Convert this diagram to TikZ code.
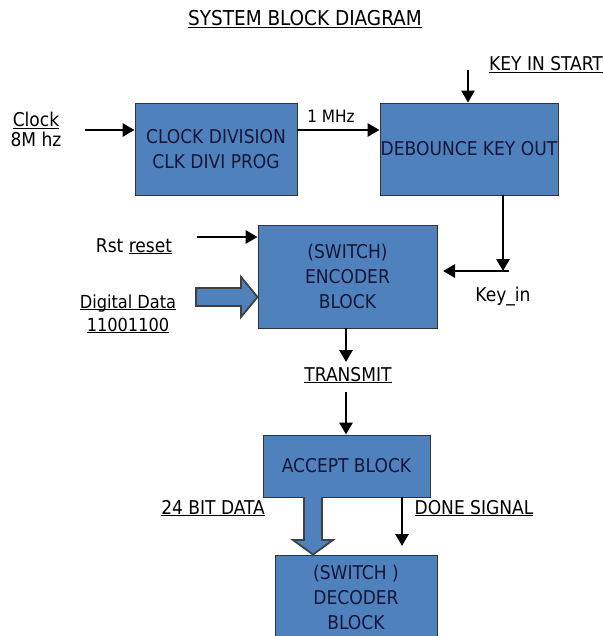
\documentclass[tikz,border=0pt]{standalone}
\usepackage{fontspec}
\setmainfont{DejaVu Sans Condensed}
\usetikzlibrary{arrows.meta}
\definecolor{boxblue}{RGB}{79,129,189}
\definecolor{boxtext}{RGB}{22,22,58}
\newcommand\ulx[1]{\underline{\smash{#1}}}
\begin{document}
\begin{tikzpicture}[x=1pt,y=-1pt,
  blk/.style={draw=black!80, line width=0.9pt, fill=boxblue, text=boxtext,
    font=\fontsize{19}{25}\selectfont, align=center, inner sep=0pt},
  lbl/.style={font=\fontsize{19}{22}\selectfont, text=black, inner sep=0pt, align=center},
  arr/.style={line width=2.9pt, -{Triangle[length=12pt,width=13pt]}},
  fat/.style={draw=black!75, line width=1.8pt, fill=boxblue, line join=miter}]
\useasboundingbox (0,0) rectangle (603,636);
\clip (0,0) rectangle (603,636);
% blocks
\node[blk, minimum width=162pt, minimum height=92pt] (clk) at (216,149) {CLOCK DIVISION\\CLK DIVI PROG};
\node[blk, minimum width=178pt, minimum height=92pt] (deb) at (469,149) {DEBOUNCE KEY OUT};
\node[blk, minimum width=179pt, minimum height=103pt] (enc) at (347.5,276.5) {(SWITCH)\\ENCODER\\BLOCK};
\node[blk, minimum width=167pt, minimum height=62pt] (acc) at (346.5,466) {ACCEPT BLOCK};
\node[blk, minimum width=162pt, minimum height=84pt] (dec) at (356,597) {(SWITCH )\\DECODER\\BLOCK};
% labels
\node[lbl, font=\fontsize{20.5}{24}\selectfont, anchor=base] (title) at (305,26) {\ulx{SYSTEM BLOCK DIAGRAM}};
\node[lbl, anchor=base] (kstart) at (546,71) {\ulx{KEY IN START}};
\node[lbl, anchor=base] (clock) at (36,127) {\ulx{Clock}};
\node[lbl, anchor=base] (clock2) at (36,147) {8M hz};
\node[lbl, font=\fontsize{17}{21}\selectfont] (mhz) at (331,116) {1 MHz};
\node[lbl] (keyin) at (503,297) {Key\_in};
\node[lbl, anchor=base] (rst) at (134,252) {Rst \ulx{reset}};
\node[lbl, font=\fontsize{18}{23}\selectfont, anchor=base] (dig) at (128,308) {\ulx{Digital Data}};
\node[lbl, font=\fontsize{18}{23}\selectfont, anchor=base] (dig2) at (128,331) {\ulx{11001100}};
\node[lbl, anchor=base] (trans) at (348,381) {\ulx{TRANSMIT}};
\node[lbl, anchor=base] (bits) at (213,514) {\ulx{24 BIT DATA}};
\node[lbl, anchor=base] (done) at (474,514) {\ulx{DONE SIGNAL}};
% coordinates
\coordinate (clkin) at (85,130);
\coordinate (ks) at (468,70);
\coordinate (kd) at (503,271);
\coordinate (ke) at (509,271);
\coordinate (kt) at (443,271);
\coordinate (rs) at (197,237);
\coordinate (tx1) at (346,362);
\coordinate (tx2) at (346,392);
\coordinate (dn) at (402,546);
% connectors
\draw[arr] (clkin) -- (clk.west |- clkin);
\draw[arr] (clk.east |- clkin) -- (deb.west |- clkin);
\draw[arr] (ks) -- (ks |- deb.north);
\draw[arr] (kd |- deb.south) -- (kd);
\draw[arr] (ke) -- (kt);
\draw[arr] (rs) -- (rs -| enc.west);
\draw[arr] (tx1 |- enc.south) -- (tx1);
\draw[arr] (tx2) -- (tx2 |- acc.north);
\draw[arr] (dn |- acc.south) -- (dn);
% block arrows
\draw[fat] (196,288) -- (241,288) -- (241,277) -- (enc.west |- 0,297) -- (241,317) -- (241,306) -- (196,306) -- cycle;
\draw[fat] (304,497) -- (304,540) -- (293,540) -- (dec.north -| 313,0) -- (333,540) -- (322,540) -- (322,497);
\end{tikzpicture}
\end{document}
